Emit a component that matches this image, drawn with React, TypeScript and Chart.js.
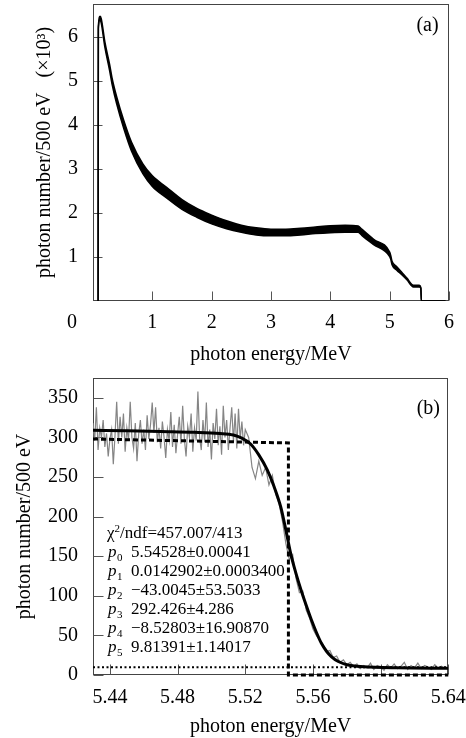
import React, { useEffect, useRef } from 'react';
import { Chart, registerables } from 'chart.js';

Chart.register(...registerables);

const SERIF = "'Liberation Serif', 'Times New Roman', serif";

// ---------------- panel (a): full spectrum (×10^3 photons / 500 eV) ----------------
const energyA = [0.086, 0.09, 0.12, 0.14, 0.2, 0.28, 0.32, 0.4, 0.52, 0.65,
  0.84, 1.0, 1.24, 1.5, 1.75, 2.0, 2.25, 2.5, 2.75, 3.0,
  3.25, 3.5, 3.75, 4.0, 4.25, 4.47, 4.53, 4.73, 5.0, 5.02,
  5.04, 5.12, 5.2, 5.29, 5.40, 5.50, 5.525, 5.535, 5.94];
// upper and lower edge of the noisy band
const bandTopA = [0, 6.22, 6.46, 6.40, 5.88, 5.37, 5.07, 4.63, 4.09, 3.60,
  3.11, 2.84, 2.58, 2.30, 2.10, 1.95, 1.82, 1.72, 1.66, 1.63,
  1.63, 1.65, 1.68, 1.71, 1.72, 1.70, 1.63, 1.40, 1.11, 1.02,
  0.90, 0.78, 0.66, 0.52, 0.36, 0.36, 0.31, 0, 0];
const bandBottomA = [0, 6.18, 6.38, 6.30, 5.76, 5.23, 4.93, 4.47, 3.91, 3.40,
  2.89, 2.60, 2.34, 2.08, 1.90, 1.75, 1.64, 1.56, 1.50, 1.48,
  1.48, 1.50, 1.53, 1.55, 1.56, 1.56, 1.49, 1.28, 1.01, 0.94,
  0.82, 0.70, 0.60, 0.48, 0.32, 0.32, 0.29, 0, 0];
const xTicksA = [1, 2, 3, 4, 5, 6];
const yTicksA = [1, 2, 3, 4, 5, 6];

// ---------------- panel (b): edge region ----------------
const energyB = [
  5.430, 5.431, 5.432, 5.433, 5.434, 5.435, 5.436, 5.437, 5.438, 5.439,
  5.440, 5.441, 5.442, 5.443, 5.444, 5.445, 5.446, 5.447, 5.448, 5.449,
  5.450, 5.451, 5.452, 5.453, 5.454, 5.455, 5.456, 5.457, 5.458, 5.459,
  5.460, 5.461, 5.462, 5.463, 5.464, 5.465, 5.466, 5.467, 5.468, 5.469,
  5.470, 5.471, 5.472, 5.473, 5.474, 5.475, 5.476, 5.477, 5.478, 5.479,
  5.480, 5.481, 5.482, 5.483, 5.484, 5.485, 5.486, 5.487, 5.488, 5.489,
  5.490, 5.491, 5.492, 5.493, 5.494, 5.495, 5.496, 5.497, 5.498, 5.499,
  5.500, 5.501, 5.502, 5.503, 5.504, 5.505, 5.506, 5.507, 5.508, 5.509,
  5.510, 5.511, 5.512, 5.513, 5.514, 5.515, 5.516, 5.517, 5.518, 5.519,
  5.520,
  5.522, 5.524, 5.526, 5.528, 5.530, 5.532, 5.534, 5.536, 5.538, 5.540,
  5.542, 5.544, 5.546, 5.548, 5.550, 5.552, 5.554, 5.556, 5.558, 5.560,
  5.562, 5.564, 5.566, 5.568, 5.570, 5.572, 5.574, 5.576, 5.578, 5.580,
  5.582, 5.584, 5.586, 5.588, 5.590, 5.592, 5.594, 5.596, 5.598, 5.600,
  5.602, 5.604, 5.606, 5.608, 5.610, 5.612, 5.614, 5.616, 5.618, 5.620,
  5.622, 5.624, 5.626, 5.628, 5.630, 5.632, 5.634, 5.636, 5.638, 5.640];
const countsB = [
  318, 296, 338, 284, 312, 300, 322, 288, 305, 276,
  298, 310, 266, 302, 345, 292, 326, 300, 330, 282,
  312, 296, 345, 300, 286, 318, 270, 304, 322, 292,
  310, 284, 328, 298, 316, 344, 306, 338, 294, 312,
  286, 320, 300, 274, 310, 296, 332, 288, 316, 280,
  304, 326, 292, 340, 298, 276, 314, 300, 330, 282,
  312, 296, 358, 300, 284, 322, 294, 344, 288, 310,
  272, 318, 298, 336, 290, 314, 278, 340, 300, 322,
  284, 312, 338, 294, 330, 286, 336, 298, 320, 290,
  310,
  300, 262, 248, 270, 252, 262, 240, 252, 228, 216,
  194, 166, 146, 152, 122, 104, 106, 82, 72, 58,
  50, 44, 38, 30, 31, 22, 24, 16, 19, 13,
  16, 11, 14, 8, 12, 9, 15, 7, 12, 10,
  6, 13, 9, 14, 8, 11, 16, 7, 12, 9,
  15, 8, 12, 10, 7, 13, 9, 11, 8, 10];

const fitEnergyB = [5.430, 5.450, 5.470, 5.490, 5.505, 5.513, 5.518, 5.523, 5.528, 5.533,
  5.537, 5.541, 5.544, 5.547, 5.550, 5.553, 5.556, 5.559, 5.562, 5.565,
  5.568, 5.571, 5.575, 5.580, 5.590, 5.610, 5.640];
const fitCountsB = [309, 308.5, 307.5, 306.5, 305, 303, 299, 292, 278, 259,
  238, 212, 183, 152, 128, 107, 88, 70, 54, 40,
  30, 23, 17, 13, 10.5, 9, 8.4];

const stepEnergyB = [5.430, 5.5455, 5.5455, 5.640];
const stepCountsB = [298, 293, 0, 0];

const backgroundEnergyB = [5.430, 5.640];
const backgroundCountsB = [9.8, 9.8];

const xTicksB = [5.44, 5.48, 5.52, 5.56, 5.60, 5.64];
const yTicksB = [0, 50, 100, 150, 200, 250, 300, 350];

const chiLine = ['χ', '2', '/ndf=457.007/413'];
const paramIndex = ['0', '1', '2', '3', '4', '5'];
const paramText = [
  '5.54528±0.00041',
  '0.0142902±0.0003400',
  '−43.0045±53.5033',
  '292.426±4.286',
  '−8.52803±16.90870',
  '9.81391±1.14017',
];

const tickFont = { family: SERIF, size: 20 };
const titleFont = { family: SERIF, size: 20, lineHeight: 1.1 };

function noScalePadding(s: any) {
  s.paddingTop = 0;
  s.paddingBottom = 0;
  s.paddingLeft = 0;
  s.paddingRight = 0;
}

function framePlugin(tickLen: number) {
  return {
    id: 'frame',
    beforeDatasetsDraw(chart: any) {
      const { ctx, chartArea: a, scales } = chart;
      ctx.save();
      ctx.strokeStyle = '#444';
      ctx.lineWidth = 1;
      const l = Math.round(a.left) + 0.5;
      const t = Math.round(a.top) + 0.5;
      const r = Math.round(a.right) - 0.5;
      const b = Math.round(a.bottom) - 0.5;
      ctx.strokeRect(l, t, r - l, b - t);
      ctx.strokeStyle = '#555';
      ctx.beginPath();
      for (const tk of scales.x.ticks) {
        const px = Math.round(scales.x.getPixelForValue(tk.value)) + 0.5;
        ctx.moveTo(px, b);
        ctx.lineTo(px, b - tickLen);
      }
      for (const tk of scales.y.ticks) {
        const py = Math.round(scales.y.getPixelForValue(tk.value)) + 0.5;
        ctx.moveTo(l, py);
        ctx.lineTo(l + tickLen, py);
      }
      ctx.stroke();
      ctx.restore();
    },
  };
}

const decorA = {
  id: 'decorA',
  afterDatasetsDraw(chart: any) {
    const { ctx, chartArea: a } = chart;
    ctx.save();
    ctx.fillStyle = '#000';
    ctx.font = `20px ${SERIF}`;
    ctx.textAlign = 'center';
    ctx.textBaseline = 'middle';
    ctx.fillText('(a)', a.right - 21.5, a.top + 22);
    ctx.fillText('0', a.left - 21, a.bottom + 22);
    ctx.restore();
  },
};

const decorB = {
  id: 'decorB',
  afterDatasetsDraw(chart: any) {
    const { ctx, chartArea: a } = chart;
    ctx.save();
    ctx.fillStyle = '#000';
    ctx.font = `20px ${SERIF}`;
    ctx.textAlign = 'center';
    ctx.textBaseline = 'middle';
    ctx.fillText('(b)', a.right - 20, a.top + 31);

    ctx.textAlign = 'left';
    const big = `17px ${SERIF}`;
    const small = `11px ${SERIF}`;
    let y = a.top + 156;
    let x = a.left + 14;
    ctx.font = big;
    ctx.fillText(chiLine[0], x, y);
    x += ctx.measureText(chiLine[0]).width;
    ctx.font = small;
    ctx.fillText(chiLine[1], x, y - 5);
    x += ctx.measureText(chiLine[1]).width;
    ctx.font = big;
    ctx.fillText(chiLine[2], x, y);

    for (let i = 0; i < paramText.length; i++) {
      y += 19;
      const px = a.left + 15;
      ctx.font = `italic ${big}`;
      ctx.fillText('p', px, y);
      const pw = ctx.measureText('p').width;
      ctx.font = small;
      ctx.fillText(paramIndex[i], px + pw + 0.5, y + 5);
      ctx.font = big;
      ctx.fillText(paramText[i], a.left + 38, y);
    }
    ctx.restore();
  },
};

function makeConfigA(): any {
  return {
    type: 'line',
    data: {
      datasets: [
        {
          data: energyA.map((x, i) => ({ x, y: bandTopA[i] })),
          borderColor: '#000',
          borderWidth: 1.5,
          pointRadius: 0,
          fill: false,
          cubicInterpolationMode: 'monotone',
        },
        {
          data: energyA.map((x, i) => ({ x, y: bandBottomA[i] })),
          borderColor: '#000',
          borderWidth: 1.5,
          pointRadius: 0,
          fill: '-1',
          backgroundColor: '#000',
          cubicInterpolationMode: 'monotone',
        },
      ],
    },
    options: {
      responsive: false,
      animation: false,
      layout: { padding: { top: 4, right: 17, left: 0, bottom: 0 } },
      plugins: { legend: { display: false }, tooltip: { enabled: false } },
      scales: {
        x: {
          type: 'linear',
          min: 0,
          max: 6,
          afterFit: (s: any) => { s.height = 65; noScalePadding(s); },
          afterBuildTicks: (s: any) => { s.ticks = xTicksA.map((v) => ({ value: v })); },
          grid: { display: false, drawTicks: false },
          border: { display: false },
          ticks: { font: tickFont, color: '#000', padding: 10, maxRotation: 0, autoSkip: false },
          title: { display: true, text: 'photon energy/MeV', font: titleFont, color: '#000', padding: { top: 0, bottom: 0 } },
        },
        y: {
          type: 'linear',
          min: 0,
          max: 6.74,
          afterFit: (s: any) => { s.width = 93; noScalePadding(s); },
          afterBuildTicks: (s: any) => { s.ticks = yTicksA.map((v) => ({ value: v })); },
          grid: { display: false, drawTicks: false },
          border: { display: false },
          ticks: { font: tickFont, color: '#000', padding: 15, autoSkip: false },
          title: { display: true, text: 'photon number/500 eV   (×10³)', font: titleFont, color: '#000', padding: { top: 34, bottom: 0 } },
        },
      },
    },
    plugins: [framePlugin(9), decorA],
  };
}

function makeConfigB(): any {
  return {
    type: 'line',
    data: {
      datasets: [
        {
          data: fitEnergyB.map((x, i) => ({ x, y: fitCountsB[i] })),
          borderColor: '#000',
          borderWidth: 3,
          pointRadius: 0,
          fill: false,
          cubicInterpolationMode: 'monotone',
          order: 0,
        },
        {
          data: stepEnergyB.map((x, i) => ({ x, y: stepCountsB[i] })),
          borderColor: '#000',
          borderWidth: 3,
          borderDash: [5, 3],
          pointRadius: 0,
          fill: false,
          tension: 0,
          clip: false,
          order: 1,
        },
        {
          data: backgroundEnergyB.map((x, i) => ({ x, y: backgroundCountsB[i] })),
          borderColor: '#000',
          borderWidth: 2,
          borderDash: [2, 2.5],
          pointRadius: 0,
          fill: false,
          tension: 0,
          order: 2,
        },
        {
          data: energyB.map((x, i) => ({ x, y: countsB[i] })),
          borderColor: '#858585',
          borderWidth: 1.2,
          pointRadius: 0,
          fill: false,
          tension: 0,
          order: 3,
        },
      ],
    },
    options: {
      responsive: false,
      animation: false,
      layout: { padding: { top: 12, right: 17.7, left: 0, bottom: 0 } },
      plugins: { legend: { display: false }, tooltip: { enabled: false } },
      scales: {
        x: {
          type: 'linear',
          min: 5.43,
          max: 5.64,
          afterFit: (s: any) => { s.height = 63; noScalePadding(s); },
          afterBuildTicks: (s: any) => { s.ticks = xTicksB.map((v) => ({ value: v })); },
          grid: { display: false, drawTicks: false },
          border: { display: false },
          ticks: {
            font: tickFont, color: '#000', padding: 11, maxRotation: 0, autoSkip: false,
            callback: (v: any) => Number(v).toFixed(2),
          },
          title: { display: true, text: 'photon energy/MeV', font: titleFont, color: '#000', padding: { top: 0, bottom: 0 } },
        },
        y: {
          type: 'linear',
          min: 0,
          max: 375,
          afterFit: (s: any) => { s.width = 93; noScalePadding(s); },
          afterBuildTicks: (s: any) => { s.ticks = yTicksB.map((v) => ({ value: v })); },
          grid: { display: false, drawTicks: false },
          border: { display: false },
          ticks: { font: tickFont, color: '#000', padding: 15, autoSkip: false },
          title: { display: true, text: 'photon number/500 eV', font: titleFont, color: '#000', padding: { top: 14, bottom: 0 } },
        },
      },
    },
    plugins: [framePlugin(10), decorB],
  };
}

export default function App() {
  const refA = useRef<HTMLCanvasElement>(null);
  const refB = useRef<HTMLCanvasElement>(null);

  useEffect(() => {
    const ca = new Chart(refA.current as HTMLCanvasElement, makeConfigA());
    const cb = new Chart(refB.current as HTMLCanvasElement, makeConfigB());
    return () => {
      ca.destroy();
      cb.destroy();
    };
  }, []);

  return (
    <div style={{ position: 'absolute', left: 0, top: 0, width: 466, height: 738, background: '#fff', overflow: 'hidden' }}>
      <canvas ref={refA} width={466} height={366} style={{ position: 'absolute', left: 0, top: 0, width: 466, height: 366 }} />
      <canvas ref={refB} width={466} height={372} style={{ position: 'absolute', left: 0, top: 366, width: 466, height: 372 }} />
    </div>
  );
}
